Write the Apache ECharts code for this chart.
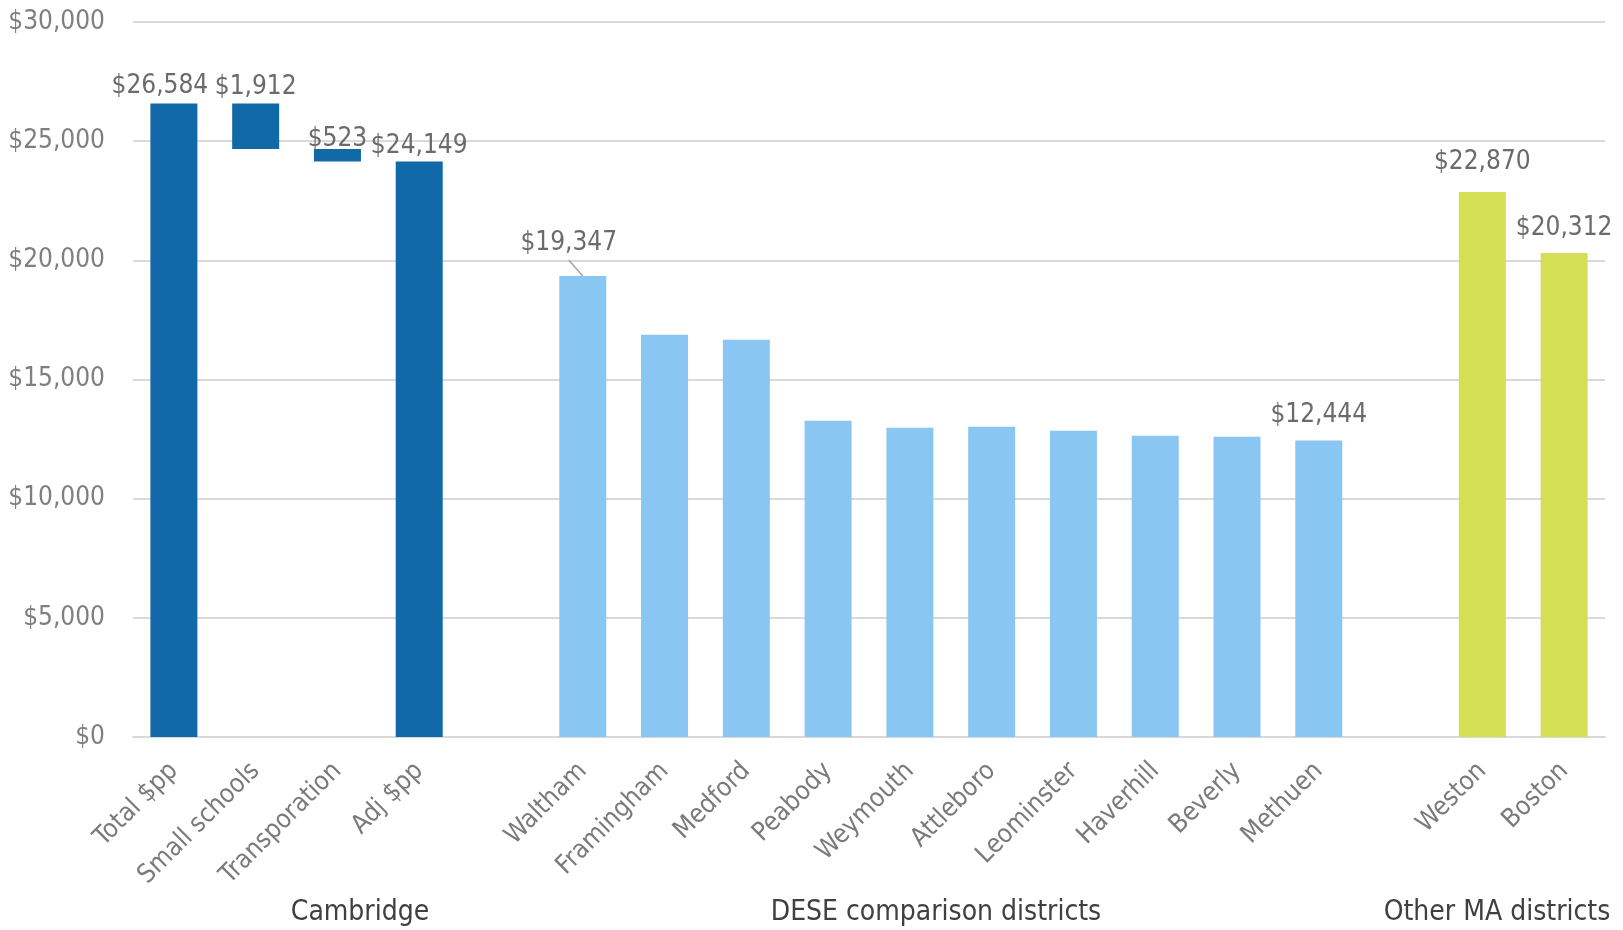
<!DOCTYPE html>
<html>
<head>
<meta charset="utf-8">
<script src="https://cdn.jsdelivr.net/npm/echarts@6/dist/echarts.min.js"></script>
<style>
html,body{margin:0;padding:0;background:#fff;}
#chart{width:1623px;height:930px;}
</style>
</head>
<body>
<div id="chart"></div>
<script>
// ---- data ----
const cambridgeNames = ['Total $pp', 'Small schools', 'Transporation', 'Adj $pp'];
const cambridgeValues = [26584, 1912, 523, 24149];
const deseNames = ['Waltham', 'Framingham', 'Medford', 'Peabody', 'Weymouth', 'Attleboro', 'Leominster', 'Haverhill', 'Beverly', 'Methuen'];
const deseValues = [19347, 16880, 16670, 13266, 12972, 13014, 12846, 12636, 12594, 12444];
const otherNames = ['Weston', 'Boston'];
const otherValues = [22870, 20312];
const groupLabels = ['Cambridge', 'DESE comparison districts', 'Other MA districts'];
const yMin = 0, yMax = 30000, yInterval = 5000;

const FONT = '"Liberation Sans Narrow", "DejaVu Sans Condensed", "Roboto", sans-serif';
const fmt = v => '$' + Math.round(v).toLocaleString('en-US');

// categories with blank gap columns between groups
const categories = [...cambridgeNames, '', ...deseNames, '', ...otherNames];
const nCat = categories.length;
const deseStart = cambridgeNames.length + 1;
const otherStart = deseStart + deseNames.length + 1;

// waterfall base for Cambridge
const baseData = new Array(nCat).fill('-');
baseData[0] = 0;
baseData[1] = cambridgeValues[0] - cambridgeValues[1];
baseData[2] = cambridgeValues[0] - cambridgeValues[1] - cambridgeValues[2];
baseData[3] = 0;

const labelDist = [4, 3, -3, 2];
const camData = new Array(nCat).fill('-');
cambridgeValues.forEach((v, i) => {
  camData[i] = {
    value: v,
    label: {show: true, distance: labelDist[i], offset: i === 0 ? [-14, 0] : [0, 0]}
  };
});

const deseData = new Array(nCat).fill('-');
deseValues.forEach((v, i) => {
  const item = {value: v};
  if (i === 0) {
    item.label = {show: true, distance: 20, offset: [-14, 0]};
  } else if (i === deseValues.length - 1) {
    item.label = {show: true, distance: 12};
  }
  deseData[deseStart + i] = item;
});

const otherDist = [17, 12];
const otherData = new Array(nCat).fill('-');
otherValues.forEach((v, i) => {
  otherData[otherStart + i] = {value: v, label: {show: true, distance: otherDist[i]}};
});

const labelStyle = {
  position: 'top',
  fontFamily: FONT,
  fontSize: 26,
  color: '#6b6b6b',
  formatter: p => fmt(p.value)
};

const chart = echarts.init(document.getElementById('chart'), null, {renderer: 'canvas'});
const option = {
  animation: false,
  backgroundColor: '#fff',
  grid: {left: 133, right: 18, top: 22, bottom: 193, containLabel: false, outerBoundsMode: 'none'},
  xAxis: {
    type: 'category',
    data: categories,
    axisLine: {show: true, lineStyle: {color: '#d9d9d9', width: 2}},
    axisTick: {show: false},
    axisLabel: {
      rotate: 45,
      interval: 0,
      margin: 30,
      fontFamily: FONT,
      fontSize: 26,
      color: '#7a7a7a'
    }
  },
  yAxis: {
    type: 'value',
    min: yMin, max: yMax, interval: yInterval,
    axisLine: {show: false},
    axisTick: {show: false},
    splitLine: {lineStyle: {color: '#d9d9d9', width: 2}},
    axisLabel: {
      formatter: v => fmt(v),
      fontFamily: FONT,
      fontSize: 26,
      color: '#7f7f7f',
      margin: 28
    }
  },
  series: [
    {
      name: 'base', type: 'bar', stack: 'a', barWidth: 47,
      data: baseData,
      itemStyle: {color: 'rgba(0,0,0,0)'},
      emphasis: {disabled: true},
      silent: true
    },
    {
      name: 'Cambridge', type: 'bar', stack: 'a', barWidth: 47,
      data: camData,
      itemStyle: {color: '#1269a8'},
      label: Object.assign({show: false}, labelStyle)
    },
    {
      name: 'DESE', type: 'bar', stack: 'a', barWidth: 47,
      data: deseData,
      itemStyle: {color: '#89c7f2'},
      label: Object.assign({show: false}, labelStyle)
    },
    {
      name: 'Other', type: 'bar', stack: 'a', barWidth: 47,
      data: otherData,
      itemStyle: {color: '#d4df55'},
      label: Object.assign({show: false}, labelStyle)
    }
  ]
};
chart.setOption(option);

// leader line for Waltham label, from label bottom to bar top, located via the axes
const walthamTop = chart.convertToPixel({gridIndex: 0}, [deseStart, deseValues[0]]);
const groupX = [360, 936, 1497];
chart.setOption({
  graphic: [
    {
      type: 'line',
      shape: {x1: walthamTop[0] - 14, y1: walthamTop[1] - 16, x2: walthamTop[0], y2: walthamTop[1]},
      style: {stroke: '#a6a6a6', lineWidth: 1.5},
      silent: true
    },
    ...groupLabels.map((t, i) => ({
      type: 'text',
      x: groupX[i], y: 913,
      style: {
        text: t, fontFamily: FONT, fontSize: 28, fill: '#404040',
        align: 'center', verticalAlign: 'middle'
      },
      silent: true
    }))
  ]
});
</script>
</body>
</html>
